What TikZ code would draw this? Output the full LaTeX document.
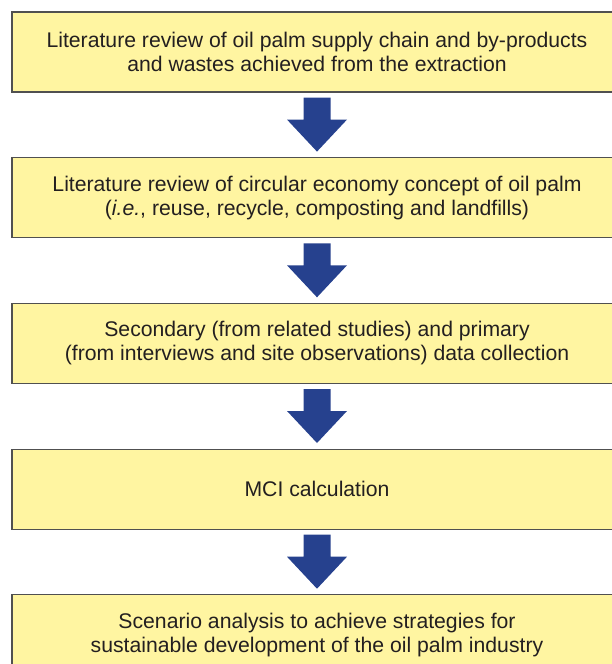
\documentclass[tikz,border=0pt]{standalone}
\usepackage{fontspec}
\setmainfont{Liberation Sans}
\usetikzlibrary{positioning}

\definecolor{boxfill}{HTML}{FFF5A1}
\definecolor{boxline}{HTML}{505050}
\definecolor{arrowblue}{HTML}{26418E}
\definecolor{textgray}{HTML}{231F20}

\tikzset{
  stepbox/.style={draw=boxline, line width=1.2pt, fill=boxfill, minimum width=610pt,
    minimum height=80pt, align=center, text=textgray, inner sep=0pt,
    font=\fontsize{21.2}{24}\selectfont},
  downarrow/.style={fill=arrowblue}
}

\begin{document}
\begin{tikzpicture}[x=1pt, y=-1pt]

  \clip (0,0) rectangle (612,664);

  % -- Steps --
  \node[stepbox] (review) at (317,52) {Literature review of oil palm supply chain and by-products\\and wastes achieved from the extraction};
  \node[stepbox, below=64.5pt of review] (circular) {Literature review of circular economy concept of oil palm\\(\textit{i.e.}, reuse, recycle, composting and landfills)};
  \node[stepbox, below=64.5pt of circular] (data) {Secondary (from related studies) and primary\\(from interviews and site observations) data collection};
  \node[stepbox, below=64.5pt of data] (mci) {MCI calculation};
  \node[stepbox, below=64.5pt of mci] (scenario) {Scenario analysis to achieve strategies for\\sustainable development of the oil palm industry};

  % -- Block arrows between steps --
  \foreach \a/\b in {review/circular, circular/data, data/mci, mci/scenario}
    \fill[downarrow] ([yshift=-5pt]\a.south) +(-13.5,0) -- +(13.5,0) -- +(13.5,22)
      -- +(30,22) -- +(0,54) -- +(-30,22) -- +(-13.5,22) -- cycle;

\end{tikzpicture}
\end{document}
